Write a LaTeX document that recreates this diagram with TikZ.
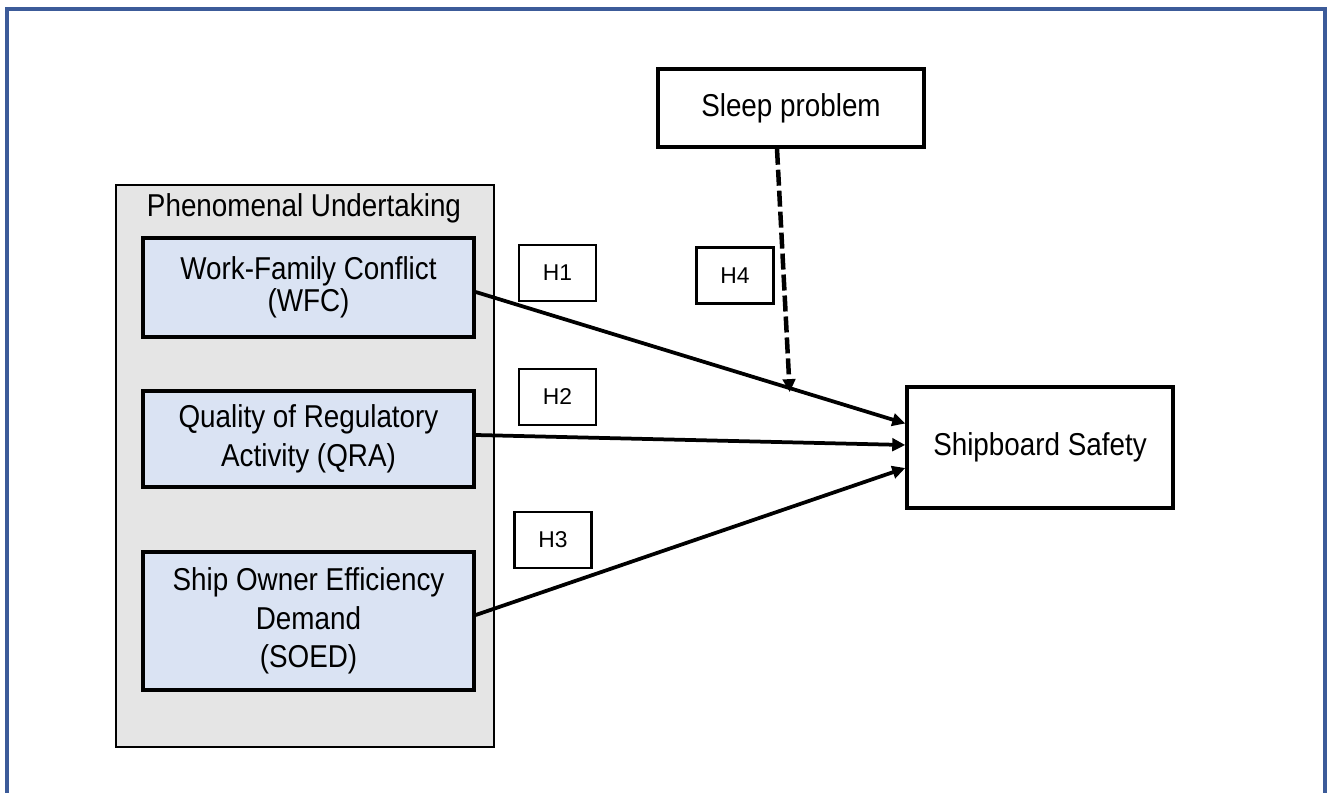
\documentclass[tikz,border=0pt]{standalone}
\usepackage{fontspec}
\setmainfont{Liberation Sans}[FakeStretch=0.88]
\newfontfamily\hfont{Liberation Sans}
\usetikzlibrary{arrows.meta,calc}

\definecolor{frameblue}{RGB}{60,91,153}
\definecolor{boxblue}{RGB}{218,227,243}
\definecolor{boxgray}{RGB}{229,229,229}

\tikzset{
  varbox/.style={draw,line width=0.07cm,fill=boxblue,align=center,inner sep=0pt,
    minimum width=6.62cm,font=\fontsize{18}{22}\selectfont},
  plainbox/.style={draw,line width=0.07cm,fill=white,align=center,inner sep=0pt,
    minimum width=5.32cm,font=\fontsize{18}{22}\selectfont},
  hypbox/.style={draw,line width=0.045cm,fill=white,inner sep=0pt,
    minimum width=1.54cm,minimum height=1.12cm,font=\hfont\fontsize{13}{15}\selectfont},
  effect/.style={line width=0.075cm,-{Triangle[length=0.26cm,width=0.25cm]}},
  moderate/.style={line width=0.09cm,dash pattern=on 0.32cm off 0.1cm,
    -{Triangle[length=0.26cm,width=0.25cm]}}
}

\begin{document}
\begin{tikzpicture}[x=0.02cm,y=-0.02cm]
                \useasboundingbox (0,0) rectangle (1328,793);

                % Drawing page frame
                \draw [frameblue,line width=0.065cm] (7,793) -- (7,9) -- (1325,9) -- (1325,793);%

                % Drawing group box
                \node [draw,line width=0.045cm,fill=boxgray,inner sep=0pt,
                  minimum width=7.56cm,minimum height=11.24cm] (phen) at (305,466) {};%
                \node [anchor=base,font=\fontsize{18}{22}\selectfont] (phentitle) at (304,217) {Phenomenal Undertaking};%

                % Drawing variable boxes
                \node [varbox,minimum height=1.98cm,font=\fontsize{18}{18.5}\selectfont] (wfc) at (308.5,287.5) {Work-Family Conflict\\(WFC)};%
                \node [varbox,minimum height=1.92cm] (qra) at (308.5,439) {Quality of Regulatory\\Activity (QRA)};%
                \node [varbox,minimum height=2.76cm] (soed) at (308.5,621) {Ship Owner Efficiency\\Demand\\(SOED)};%

                % Drawing outcome and moderator
                \node [plainbox,minimum height=2.42cm] (ship) at (1040,447.5) {Shipboard Safety};%
                \node [plainbox,minimum height=1.56cm] (sleep) at (791,108) {Sleep problem};%

                % Marking hypotheses
                \node [hypbox] (h1) at (557.5,273) {H1};%
                \node [hypbox] (h2) at (557.5,397) {H2};%
                \node [hypbox] (h3) at (553,540) {H3};%
                \node [hypbox] (h4) at (735,275.5) {H4};%

                % Drawing paths to shipboard safety
                \coordinate (tip1) at ([yshift=0.48cm]ship.west);%
                \coordinate (tip2) at ([yshift=0.05cm]ship.west);%
                \coordinate (tip3) at ([yshift=-0.41cm]ship.west);%
                \draw [effect] ([yshift=-0.09cm]wfc.east) -- (tip1);%
                \draw [effect] ([yshift=0.08cm]qra.east) -- (tip2);%
                \draw [effect] ([yshift=0.12cm]soed.east) -- (tip3);%

                % Drawing moderating path
                \coordinate (meet) at ($([yshift=-0.09cm]wfc.east)!0.731!(tip1)$);%
                \draw [moderate] ([xshift=-0.28cm]sleep.south) -- ([yshift=-0.08cm]meet);%
            \end{tikzpicture}
\end{document}
